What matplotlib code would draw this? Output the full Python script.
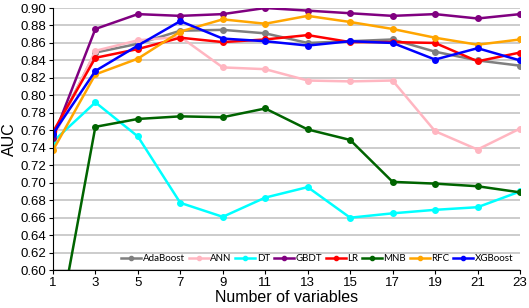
import matplotlib
matplotlib.use("Agg")
import matplotlib.pyplot as plt

plt.rcParams["font.family"] = ["Liberation Sans", "DejaVu Sans"]

n_vars = [1, 3, 5, 7, 9, 11, 13, 15, 17, 19, 21, 23]

adaboost = [0.754, 0.849, 0.859, 0.874, 0.875, 0.871, 0.860, 0.862, 0.864, 0.850, 0.840, 0.834]
ann = [0.750, 0.851, 0.863, 0.867, 0.832, 0.830, 0.817, 0.816, 0.817, 0.759, 0.738, 0.762]
dt = [0.747, 0.792, 0.753, 0.677, 0.661, 0.683, 0.695, 0.660, 0.665, 0.669, 0.672, 0.690]
gbdt = [0.751, 0.876, 0.893, 0.891, 0.893, 0.900, 0.897, 0.894, 0.891, 0.893, 0.888, 0.893]
lr = [0.758, 0.843, 0.853, 0.866, 0.861, 0.864, 0.869, 0.861, 0.861, 0.860, 0.839, 0.849]
mnb = [0.500, 0.764, 0.773, 0.776, 0.775, 0.785, 0.761, 0.749, 0.701, 0.699, 0.696, 0.689]
rfc = [0.737, 0.824, 0.842, 0.873, 0.887, 0.882, 0.891, 0.884, 0.876, 0.866, 0.858, 0.864]
xgboost = [0.756, 0.828, 0.857, 0.885, 0.865, 0.862, 0.857, 0.862, 0.860, 0.841, 0.854, 0.840]

series = [
    ("AdaBoost", adaboost, "#7f7f7f"),
    ("ANN", ann, "#ffb6c1"),
    ("DT", dt, "#00ffff"),
    ("GBDT", gbdt, "#800080"),
    ("LR", lr, "#ff0000"),
    ("MNB", mnb, "#006400"),
    ("RFC", rfc, "#ffa500"),
    ("XGBoost", xgboost, "#0000ff"),
]

fig = plt.figure(figsize=(5.29, 3.08), dpi=100)
ax = fig.add_axes([0.1, 0.123, 0.883, 0.851])

for name, vals, color in series:
    ax.plot(n_vars, vals, color=color, lw=1.8, marker="o", ms=4, label=name)

ax.set_xlim(1, 23)
ax.set_ylim(0.60, 0.90)
ax.set_xticks(n_vars)
ax.set_yticks([0.60 + 0.02 * i for i in range(16)])
ax.yaxis.set_major_formatter(matplotlib.ticker.FormatStrFormatter("%.2f"))
ax.tick_params(labelsize=9.5, length=3, pad=2)
ax.grid(axis="y", color="#c8c8c8", lw=1.3)
ax.set_axisbelow(True)
for s in ["top", "right"]:
    ax.spines[s].set_visible(False)
ax.set_xlabel("Number of variables", fontsize=11.5, labelpad=1)
ax.set_ylabel("AUC", fontsize=11.5, labelpad=2)

ax.legend(loc="lower right", ncol=8, frameon=False,
          prop={"family": "Lato", "size": 7},
          handlelength=2.05, handletextpad=0.15, columnspacing=0.4,
          borderaxespad=0.3, markerscale=0.75)

fig.savefig("out.png", dpi=100)
